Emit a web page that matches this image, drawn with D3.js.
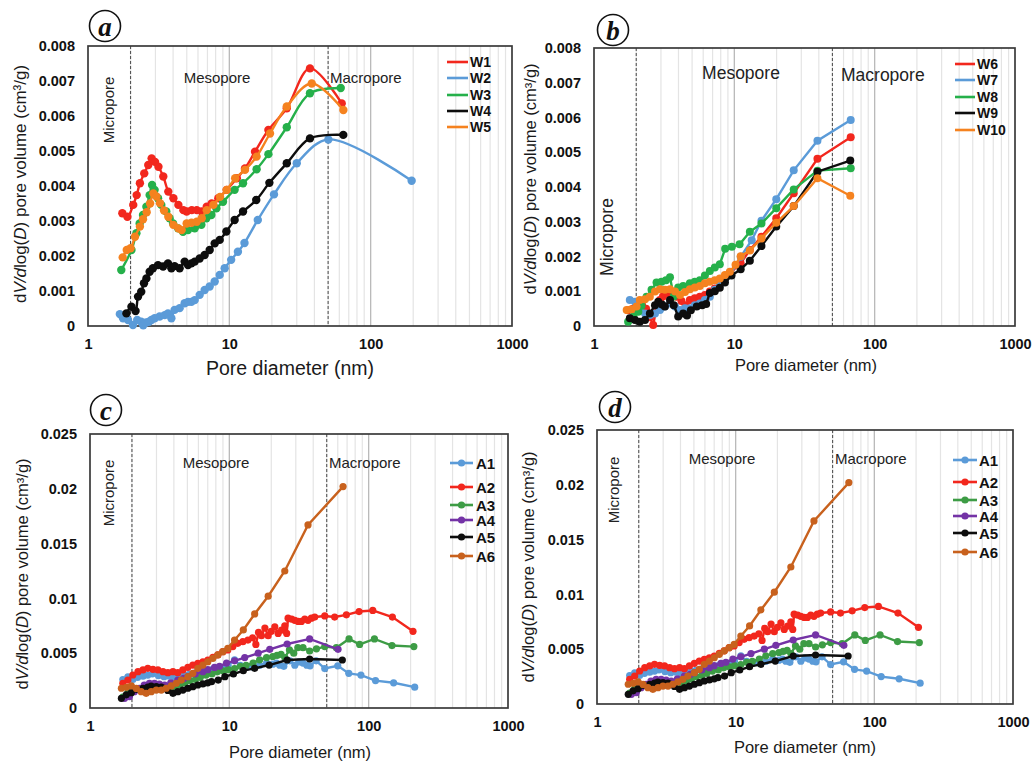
<!DOCTYPE html>
<html>
<head>
<meta charset="utf-8">
<script src="https://cdn.jsdelivr.net/npm/d3@7"></script>
<style>
  body { margin: 0; background: #fff; }
  svg { display: block; }
  text { font-family: "Liberation Sans", Arial, Helvetica, sans-serif; }
</style>
</head>
<body>
<svg id="fig" width="1035" height="762"></svg>
<script>
// ---------- shared axis values ----------
const xTickVals = [1, 10, 100, 1000];
const poreBounds = [2, 50];                 // micro/meso and meso/macro limits (nm)
const poreClasses = ["Micropore", "Mesopore", "Macropore"];
const yTicksW = [0, 0.001, 0.002, 0.003, 0.004, 0.005, 0.006, 0.007, 0.008];
const yTicksA = [0, 0.005, 0.01, 0.015, 0.02, 0.025];

// ---------- samples W1–W5: [pore diameter nm, dV/dlog(D) cm3/g] ----------
const W1 = [[1.75,0.00322],[1.90,0.00312],[2.09,0.00346],[2.21,0.00374],[2.33,0.00408],[2.50,0.00436],[2.67,0.00460],[2.82,0.00479],[2.98,0.00469],[3.15,0.00455],[3.41,0.00427],[3.70,0.00384],[4.02,0.00365],[4.36,0.00346],[4.73,0.00331],[4.99,0.00327],[5.42,0.00331],[5.88,0.00331],[6.38,0.00327],[6.92,0.00341],[7.50,0.00350],[8.36,0.00365],[9.58,0.00389],[11.3,0.00422],[12.9,0.00450],[15.2,0.00498],[18.9,0.00560],[25.5,0.00622],[37.2,0.00736],[62.4,0.00636]];
const W2 = [[1.68,0.00034],[1.77,0.00022],[1.92,0.00017],[2.08,0.00003],[2.23,0.00017],[2.38,0.00012],[2.46,0.00002],[2.58,0.00010],[2.70,0.00012],[2.81,0.00017],[2.96,0.00022],[3.21,0.00027],[3.49,0.00031],[3.68,0.00036],[3.89,0.00022],[4.10,0.00046],[4.45,0.00051],[4.83,0.00065],[5.10,0.00069],[5.39,0.00069],[5.69,0.00074],[6.17,0.00089],[6.69,0.00103],[7.26,0.00113],[7.88,0.00127],[8.55,0.00146],[9.27,0.00165],[10.3,0.00189],[11.5,0.00212],[12.8,0.00237],[15.9,0.00303],[20.7,0.00376],[30.0,0.00465],[50.2,0.00533],[195,0.00415]];
const W3 = [[1.72,0.00160],[2.03,0.00217],[2.20,0.00265],[2.32,0.00293],[2.45,0.00317],[2.59,0.00341],[2.73,0.00374],[2.84,0.00403],[2.96,0.00389],[3.13,0.00365],[3.30,0.00346],[3.58,0.00327],[3.78,0.00308],[4.00,0.00293],[4.34,0.00279],[4.70,0.00269],[5.10,0.00274],[5.69,0.00279],[6.34,0.00289],[6.88,0.00308],[7.46,0.00317],[8.10,0.00336],[9.02,0.00355],[10.9,0.00389],[12.5,0.00408],[15.6,0.00448],[18.9,0.00491],[25.5,0.00568],[37.2,0.00665],[61.4,0.00680]];
const W4 = [[1.87,0.00036],[2.03,0.00055],[2.17,0.00043],[2.26,0.00084],[2.38,0.00098],[2.49,0.00122],[2.59,0.00136],[2.73,0.00155],[2.88,0.00165],[3.13,0.00174],[3.40,0.00170],[3.68,0.00179],[3.89,0.00165],[4.10,0.00171],[4.45,0.00165],[4.83,0.00184],[5.10,0.00174],[5.39,0.00179],[5.69,0.00184],[6.17,0.00193],[6.69,0.00203],[7.26,0.00217],[7.88,0.00236],[8.55,0.00246],[9.53,0.00270],[10.9,0.00303],[12.5,0.00327],[15.5,0.00360],[19.2,0.00409],[25.5,0.00465],[37.2,0.00536],[64.0,0.00546]];
const W5 = [[1.76,0.00196],[1.88,0.00217],[2.00,0.00222],[2.15,0.00255],[2.33,0.00284],[2.45,0.00305],[2.60,0.00325],[2.75,0.00350],[2.90,0.00379],[3.05,0.00370],[3.23,0.00351],[3.45,0.00330],[3.70,0.00312],[4.02,0.00289],[4.36,0.00279],[4.60,0.00274],[4.99,0.00293],[5.40,0.00295],[5.88,0.00298],[6.38,0.00308],[6.92,0.00331],[7.71,0.00346],[8.59,0.00369],[9.58,0.00389],[11.0,0.00422],[12.9,0.00446],[15.6,0.00484],[19.4,0.00550],[25.5,0.00627],[38.3,0.00693],[64.1,0.00617]];

// ---------- samples W6–W10 ----------
const W6 = [[1.75,0.00045],[1.90,0.00050],[2.07,0.00055],[2.20,0.00060],[2.35,0.00050],[2.50,0.00025],[2.64,0.00003],[2.80,0.00055],[2.95,0.00075],[3.10,0.00085],[3.38,0.00093],[3.60,0.00085],[3.88,0.00084],[4.20,0.00072],[4.50,0.00060],[4.82,0.00075],[5.23,0.00080],[5.68,0.00084],[6.17,0.00089],[6.69,0.00099],[7.26,0.00108],[7.88,0.00123],[8.57,0.00137],[9.29,0.00152],[11.1,0.00180],[12.9,0.00219],[15.6,0.00257],[19.9,0.00310],[26.5,0.00382],[39.1,0.00481],[67.5,0.00543]];
const W7 = [[1.80,0.00075],[1.96,0.00070],[2.12,0.00046],[2.31,0.00036],[2.50,0.00032],[2.72,0.00036],[2.95,0.00046],[3.20,0.00056],[3.48,0.00065],[3.78,0.00056],[4.10,0.00046],[4.45,0.00051],[4.82,0.00051],[5.23,0.00060],[5.68,0.00065],[6.17,0.00075],[6.69,0.00084],[7.26,0.00104],[7.88,0.00118],[8.57,0.00132],[9.29,0.00147],[11.1,0.00199],[13.3,0.00247],[15.6,0.00303],[19.9,0.00365],[26.5,0.00448],[39.1,0.00533],[67.5,0.00593]];
const W8 = [[1.75,0.00012],[1.91,0.00027],[2.07,0.00041],[2.18,0.00058],[2.37,0.00084],[2.57,0.00104],[2.79,0.00125],[3.03,0.00127],[3.26,0.00132],[3.48,0.00140],[3.70,0.00085],[3.98,0.00111],[4.32,0.00115],[4.60,0.00108],[4.82,0.00123],[5.23,0.00127],[5.68,0.00132],[6.17,0.00145],[6.69,0.00158],[7.26,0.00168],[7.88,0.00178],[8.60,0.00222],[9.60,0.00228],[10.9,0.00235],[12.9,0.00271],[15.6,0.00295],[19.9,0.00339],[26.5,0.00393],[39.1,0.00447],[67.5,0.00454]];
const W9 = [[1.80,0.00022],[1.96,0.00017],[2.12,0.00012],[2.31,0.00017],[2.50,0.00036],[2.72,0.00060],[2.87,0.00070],[3.05,0.00062],[3.20,0.00056],[3.48,0.00075],[3.70,0.00060],[3.98,0.00027],[4.32,0.00036],[4.60,0.00030],[4.90,0.00045],[5.40,0.00056],[5.90,0.00060],[6.30,0.00063],[6.69,0.00095],[7.26,0.00100],[7.88,0.00110],[8.57,0.00125],[9.55,0.00145],[11.1,0.00163],[12.9,0.00188],[15.6,0.00230],[19.9,0.00286],[26.5,0.00345],[39.1,0.00444],[67.0,0.00476]];
const W10 = [[1.71,0.00046],[1.85,0.00048],[2.01,0.00056],[2.12,0.00075],[2.31,0.00077],[2.50,0.00084],[2.72,0.00099],[2.95,0.00106],[3.20,0.00104],[3.48,0.00106],[3.78,0.00099],[4.10,0.00089],[4.45,0.00098],[4.82,0.00106],[5.23,0.00111],[5.68,0.00115],[6.17,0.00123],[6.69,0.00127],[7.26,0.00132],[7.88,0.00137],[8.57,0.00147],[9.29,0.00156],[10.2,0.00176],[11.1,0.00201],[12.9,0.00217],[15.6,0.00252],[19.9,0.00297],[26.5,0.00345],[39.1,0.00425],[67.0,0.00375]];

// ---------- samples A1–A6 ----------
const A1 = [[1.72,0.0026],[1.87,0.00285],[2.03,0.0026],[2.2,0.0028],[2.4,0.0029],[2.6,0.0030],[2.8,0.0031],[3.1,0.00295],[3.4,0.00285],[3.7,0.0029],[4.0,0.00285],[4.4,0.0029],[4.8,0.0030],[5.2,0.0031],[5.7,0.0032],[6.2,0.0033],[6.8,0.0034],[7.5,0.0035],[8.2,0.00355],[9.0,0.0037],[9.8,0.0039],[10.9,0.0044],[12.0,0.0039],[13.2,0.0037],[14.8,0.00375],[16.5,0.0039],[18.5,0.0041],[20.5,0.0040],[21.8,0.0041],[23.0,0.0039],[24.6,0.0038],[27.2,0.0043],[29.5,0.0039],[31.5,0.0042],[33.8,0.0041],[36.0,0.0039],[38.0,0.00385],[42.0,0.0043],[48.4,0.0036],[60.0,0.00385],[72.0,0.00316],[88.0,0.0030],[112,0.0025],[151,0.0023],[214,0.0019]];
const A2 = [[1.72,0.00225],[1.87,0.00255],[2.03,0.00301],[2.21,0.00331],[2.40,0.00347],[2.60,0.00362],[2.83,0.00353],[3.07,0.00347],[3.34,0.00331],[3.62,0.00322],[3.94,0.00331],[4.27,0.00322],[4.64,0.00347],[5.04,0.00371],[5.47,0.00392],[5.94,0.00408],[6.46,0.00422],[7.01,0.00438],[7.62,0.00462],[8.27,0.00484],[8.98,0.00514],[9.75,0.00529],[10.6,0.00560],[11.5,0.00590],[12.5,0.00605],[13.6,0.0062],[14.7,0.0064],[15.5,0.0058],[16.2,0.0069],[17.0,0.0066],[18.0,0.0073],[19.0,0.0066],[20.0,0.0070],[21.2,0.0074],[22.4,0.0068],[23.7,0.0071],[25.0,0.0075],[25.8,0.0068],[26.4,0.0082],[28.0,0.0081],[29.5,0.0080],[31.2,0.0079],[32.9,0.0079],[34.8,0.0081],[36.7,0.0080],[38.8,0.0082],[41.0,0.0083],[48.4,0.0084],[57.0,0.0083],[69.2,0.0085],[85.3,0.0088],[107,0.0089],[148,0.0083],[208,0.0070]];
const A3 = [[1.72,0.0010],[1.87,0.0014],[2.03,0.0016],[2.2,0.0017],[2.4,0.0018],[2.6,0.0019],[2.8,0.00195],[3.1,0.0019],[3.4,0.0018],[3.7,0.0018],[4.0,0.0019],[4.4,0.0021],[4.8,0.0023],[5.2,0.0025],[5.7,0.0026],[6.2,0.0028],[6.8,0.0030],[7.5,0.0031],[8.2,0.0033],[9.0,0.0034],[9.8,0.0035],[10.9,0.0036],[12.0,0.0038],[13.2,0.0039],[14.8,0.0041],[16.5,0.0044],[18.5,0.0046],[20.5,0.0047],[22.0,0.0048],[23.5,0.0049],[25.0,0.0046],[27.0,0.0053],[29.0,0.0050],[31.0,0.0055],[33.8,0.0055],[37.7,0.0052],[42.2,0.0054],[48.4,0.0056],[58.6,0.0055],[72.3,0.0063],[86.1,0.0058],[110,0.0063],[147,0.0057],[211,0.0056]];
const A4 = [[1.77,0.00088],[1.92,0.00103],[2.08,0.00149],[2.26,0.0018],[2.45,0.0021],[2.67,0.00225],[2.90,0.00225],[3.15,0.00219],[3.43,0.0021],[3.80,0.0023],[4.27,0.00255],[4.70,0.0027],[5.04,0.00286],[5.70,0.0031],[6.46,0.00331],[7.00,0.0035],[7.83,0.0037],[8.50,0.0038],[9.55,0.0041],[10.9,0.0043],[12.9,0.0046],[16.1,0.0050],[19.5,0.00535],[26.0,0.00584],[37.7,0.0063],[60.3,0.00535]];
const A5 = [[1.68,0.00088],[1.82,0.0012],[1.98,0.0014],[2.15,0.0017],[2.40,0.0018],[2.60,0.0019],[2.75,0.0020],[2.99,0.00195],[3.25,0.0019],[3.43,0.0018],[3.62,0.0016],[3.94,0.00134],[4.27,0.00149],[4.64,0.00164],[5.04,0.0018],[5.47,0.00195],[5.94,0.0021],[6.46,0.0022],[7.00,0.0023],[7.45,0.0024],[8.32,0.00255],[9.29,0.00286],[10.7,0.0031],[12.6,0.00341],[15.2,0.00362],[19.3,0.00392],[26.0,0.00438],[37.7,0.00447],[64.7,0.00438]];
const A6 = [[1.68,0.0018],[1.82,0.00189],[1.98,0.00201],[2.15,0.00179],[2.33,0.00149],[2.53,0.00134],[2.75,0.00149],[2.99,0.00164],[3.25,0.00164],[3.52,0.0018],[3.83,0.00201],[4.16,0.00225],[4.52,0.00255],[5.04,0.00286],[5.47,0.00316],[5.94,0.00362],[6.46,0.00392],[7.01,0.00422],[7.62,0.00453],[8.27,0.00484],[8.98,0.00514],[9.75,0.00544],[10.9,0.0062],[12.6,0.00712],[15.2,0.00858],[19.0,0.0102],[25.0,0.0125],[36.7,0.0167],[65.5,0.0202]];

const namesW1 = ["W1", "W2", "W3", "W4", "W5"];
const namesW2 = ["W6", "W7", "W8", "W9", "W10"];
const namesA  = ["A1", "A2", "A3", "A4", "A5", "A6"];
const colorsW = ["#f2271d", "#5b9bd8", "#25b04a", "#0d0d0d", "#f5821f"];
const colorsA = ["#5b9bd8", "#f2271d", "#3d9c45", "#7433a6", "#0d0d0d", "#c8611d"];

const svg = d3.select("#fig");

function yTitle(x, y, size) {
  const t = svg.append("text")
    .attr("transform", `translate(${x},${y}) rotate(-90)`)
    .attr("text-anchor", "middle").attr("dominant-baseline", "central")
    .style("font-size", size + "px").attr("fill", "#1a1a1a");
  t.append("tspan").text("d");
  t.append("tspan").style("font-style", "italic").text("V/d");
  t.append("tspan").text("log(");
  t.append("tspan").style("font-style", "italic").text("D");
  t.append("tspan").text(") pore volume (cm³/g)");
}

function drawPanel(p) {
  const x = d3.scaleLog().domain([1, 1000]).range([p.left, p.left + p.width]);
  const y = d3.scaleLinear().domain([0, p.yMax]).range([p.top + p.height, p.top]);
  const g = svg.append("g");

  // vertical log grid
  const minor = [];
  [1, 10, 100].forEach(dec => { for (let k = 2; k <= 9; k++) minor.push(k * dec); });
  g.selectAll(null).data(minor).join("line")
    .attr("x1", d => x(d)).attr("x2", d => x(d))
    .attr("y1", p.top).attr("y2", p.top + p.height)
    .attr("stroke", "#e4e4e4").attr("stroke-width", 1.2);
  g.selectAll(null).data([10, 100]).join("line")
    .attr("x1", d => x(d)).attr("x2", d => x(d))
    .attr("y1", p.top).attr("y2", p.top + p.height)
    .attr("stroke", "#b9b9b9").attr("stroke-width", 1.3);

  // pore class boundaries
  g.selectAll(null).data(poreBounds).join("line")
    .attr("x1", d => x(d)).attr("x2", d => x(d))
    .attr("y1", p.top).attr("y2", p.top + p.height)
    .attr("stroke", "#555").attr("stroke-width", 1.1).attr("stroke-dasharray", "3,2");

  // frame
  g.append("rect").attr("x", p.left).attr("y", p.top)
    .attr("width", p.width).attr("height", p.height)
    .attr("fill", "none").attr("stroke", "#3a3a3a").attr("stroke-width", 1.7);

  // axes
  const xa = g.append("g").attr("transform", `translate(0,${p.top + p.height})`)
    .call(d3.axisBottom(x).tickValues(xTickVals).tickFormat(d => String(d)).tickSize(0).tickPadding(13));
  xa.select(".domain").remove();
  xa.selectAll("text").style("font-size", "14.5px").style("font-weight", "bold").attr("fill", "#111");
  const ya = g.append("g").attr("transform", `translate(${p.left},0)`)
    .call(d3.axisLeft(y).tickValues(p.yTicks).tickFormat(d => d === 0 ? "0" : String(+d.toFixed(3))).tickSize(0).tickPadding(13));
  ya.select(".domain").remove();
  ya.selectAll("text").style("font-size", "14.5px").style("font-weight", "bold").attr("fill", "#111");

  // series
  const line = d3.line().x(d => x(d[0])).y(d => y(d[1])).curve(p.curve);
  p.series.forEach((s, i) => {
    const sg = g.append("g");
    sg.append("path").datum(s).attr("d", line)
      .attr("fill", "none").attr("stroke", p.colors[i]).attr("stroke-width", 2.4);
    sg.selectAll("circle").data(s).join("circle")
      .attr("cx", d => x(d[0])).attr("cy", d => y(d[1])).attr("r", p.r)
      .attr("fill", p.colors[i]);
  });

  // legend
  const L = p.legend;
  p.names.forEach((n, i) => {
    const ly = L.ys[i];
    svg.append("line").attr("x1", L.x0).attr("x2", L.x1).attr("y1", ly).attr("y2", ly)
      .attr("stroke", p.colors[i]).attr("stroke-width", 2.6);
    if (L.markers) {
      svg.append("circle").attr("cx", (L.x0 + L.x1) / 2).attr("cy", ly).attr("r", p.r)
        .attr("fill", p.colors[i]);
    }
    svg.append("text").attr("x", L.tx).attr("y", ly).attr("dominant-baseline", "central")
      .style("font-size", L.size + "px").style("font-weight", "bold").attr("fill", "#111").text(n);
  });

  // pore class labels
  const T = p.labels;
  svg.append("text").attr("transform", `translate(${T.micro[0]},${T.micro[1]}) rotate(-90)`)
    .attr("text-anchor", "middle").attr("dominant-baseline", "central")
    .style("font-size", T.size + "px").attr("fill", "#222").text(poreClasses[0]);
  svg.append("text").attr("x", T.meso[0]).attr("y", T.meso[1])
    .attr("text-anchor", "middle").attr("dominant-baseline", "central")
    .style("font-size", T.size + "px").attr("fill", "#222").text(poreClasses[1]);
  svg.append("text").attr("x", T.macro[0]).attr("y", T.macro[1])
    .attr("dominant-baseline", "central")
    .style("font-size", T.size + "px").attr("fill", "#222").text(poreClasses[2]);

  // axis titles
  svg.append("text").attr("x", p.xTitle[0]).attr("y", p.xTitle[1])
    .attr("text-anchor", "middle").attr("dominant-baseline", "central")
    .style("font-size", p.xTitle[2] + "px").attr("fill", "#1a1a1a").text("Pore diameter (nm)");
  yTitle(p.yTitle[0], p.yTitle[1], p.yTitle[2]);

  // panel letter
  svg.append("circle").attr("cx", p.letter[0]).attr("cy", p.letter[1]).attr("r", 15.5)
    .attr("fill", "#fff").attr("stroke", "#111").attr("stroke-width", 1.6);
  svg.append("text").attr("x", p.letter[0]).attr("y", p.letter[1] + 1)
    .attr("text-anchor", "middle").attr("dominant-baseline", "central")
    .style("font-family", "'Liberation Serif', 'Times New Roman', serif")
    .style("font-size", "27px").style("font-weight", "bold").style("font-style", "italic")
    .attr("fill", "#111").text(p.letter[2]);
}

drawPanel({
  left: 88, top: 46, width: 424, height: 280, yMax: 0.008, yTicks: yTicksW,
  series: [W1, W2, W3, W4, W5], names: namesW1, colors: colorsW, r: 4.2,
  curve: d3.curveCatmullRom.alpha(0.5),
  legend: { x0: 447, x1: 468, tx: 470, ys: [62, 78, 95, 111, 127], size: 14, markers: false },
  labels: { size: 15, micro: [108, 110], meso: [217, 77], macro: [330, 77] },
  xTitle: [290, 368, 19.5], yTitle: [20, 184, 17], letter: [105, 26, "a"]
});
drawPanel({
  left: 594, top: 48, width: 421, height: 278, yMax: 0.008, yTicks: yTicksW,
  series: [W6, W7, W8, W9, W10], names: namesW2, colors: colorsW, r: 4.0,
  curve: d3.curveLinear,
  legend: { x0: 955, x1: 975, tx: 977, ys: [64, 80, 97, 113, 130], size: 14, markers: false },
  labels: { size: 17.5, micro: [607, 237], meso: [741, 73], macro: [841, 75] },
  xTitle: [806, 365, 16.5], yTitle: [530, 179, 16.5], letter: [613, 30, "b"]
});
drawPanel({
  left: 90, top: 434, width: 418, height: 274, yMax: 0.025, yTicks: yTicksA,
  series: [A1, A2, A3, A4, A5, A6], names: namesA, colors: colorsA, r: 3.6,
  curve: d3.curveLinear,
  legend: { x0: 450, x1: 473, tx: 476, ys: [463, 487, 505, 520, 537, 556], size: 15, markers: true },
  labels: { size: 15, micro: [108, 493], meso: [216, 462], macro: [329, 462] },
  xTitle: [300, 752, 16.5], yTitle: [22, 574, 16.5], letter: [106, 410, "c"]
});
drawPanel({
  left: 597, top: 430, width: 416, height: 274, yMax: 0.025, yTicks: yTicksA,
  series: [A1, A2, A3, A4, A5, A6], names: namesA, colors: colorsA, r: 3.6,
  curve: d3.curveLinear,
  legend: { x0: 953, x1: 977, tx: 979, ys: [460, 482, 500, 516, 533, 552], size: 15, markers: true },
  labels: { size: 15, micro: [613, 490], meso: [722, 458], macro: [835, 458] },
  xTitle: [805, 747, 16.5], yTitle: [528, 567, 16.5], letter: [615, 407, "d"]
});
</script>
</body>
</html>
